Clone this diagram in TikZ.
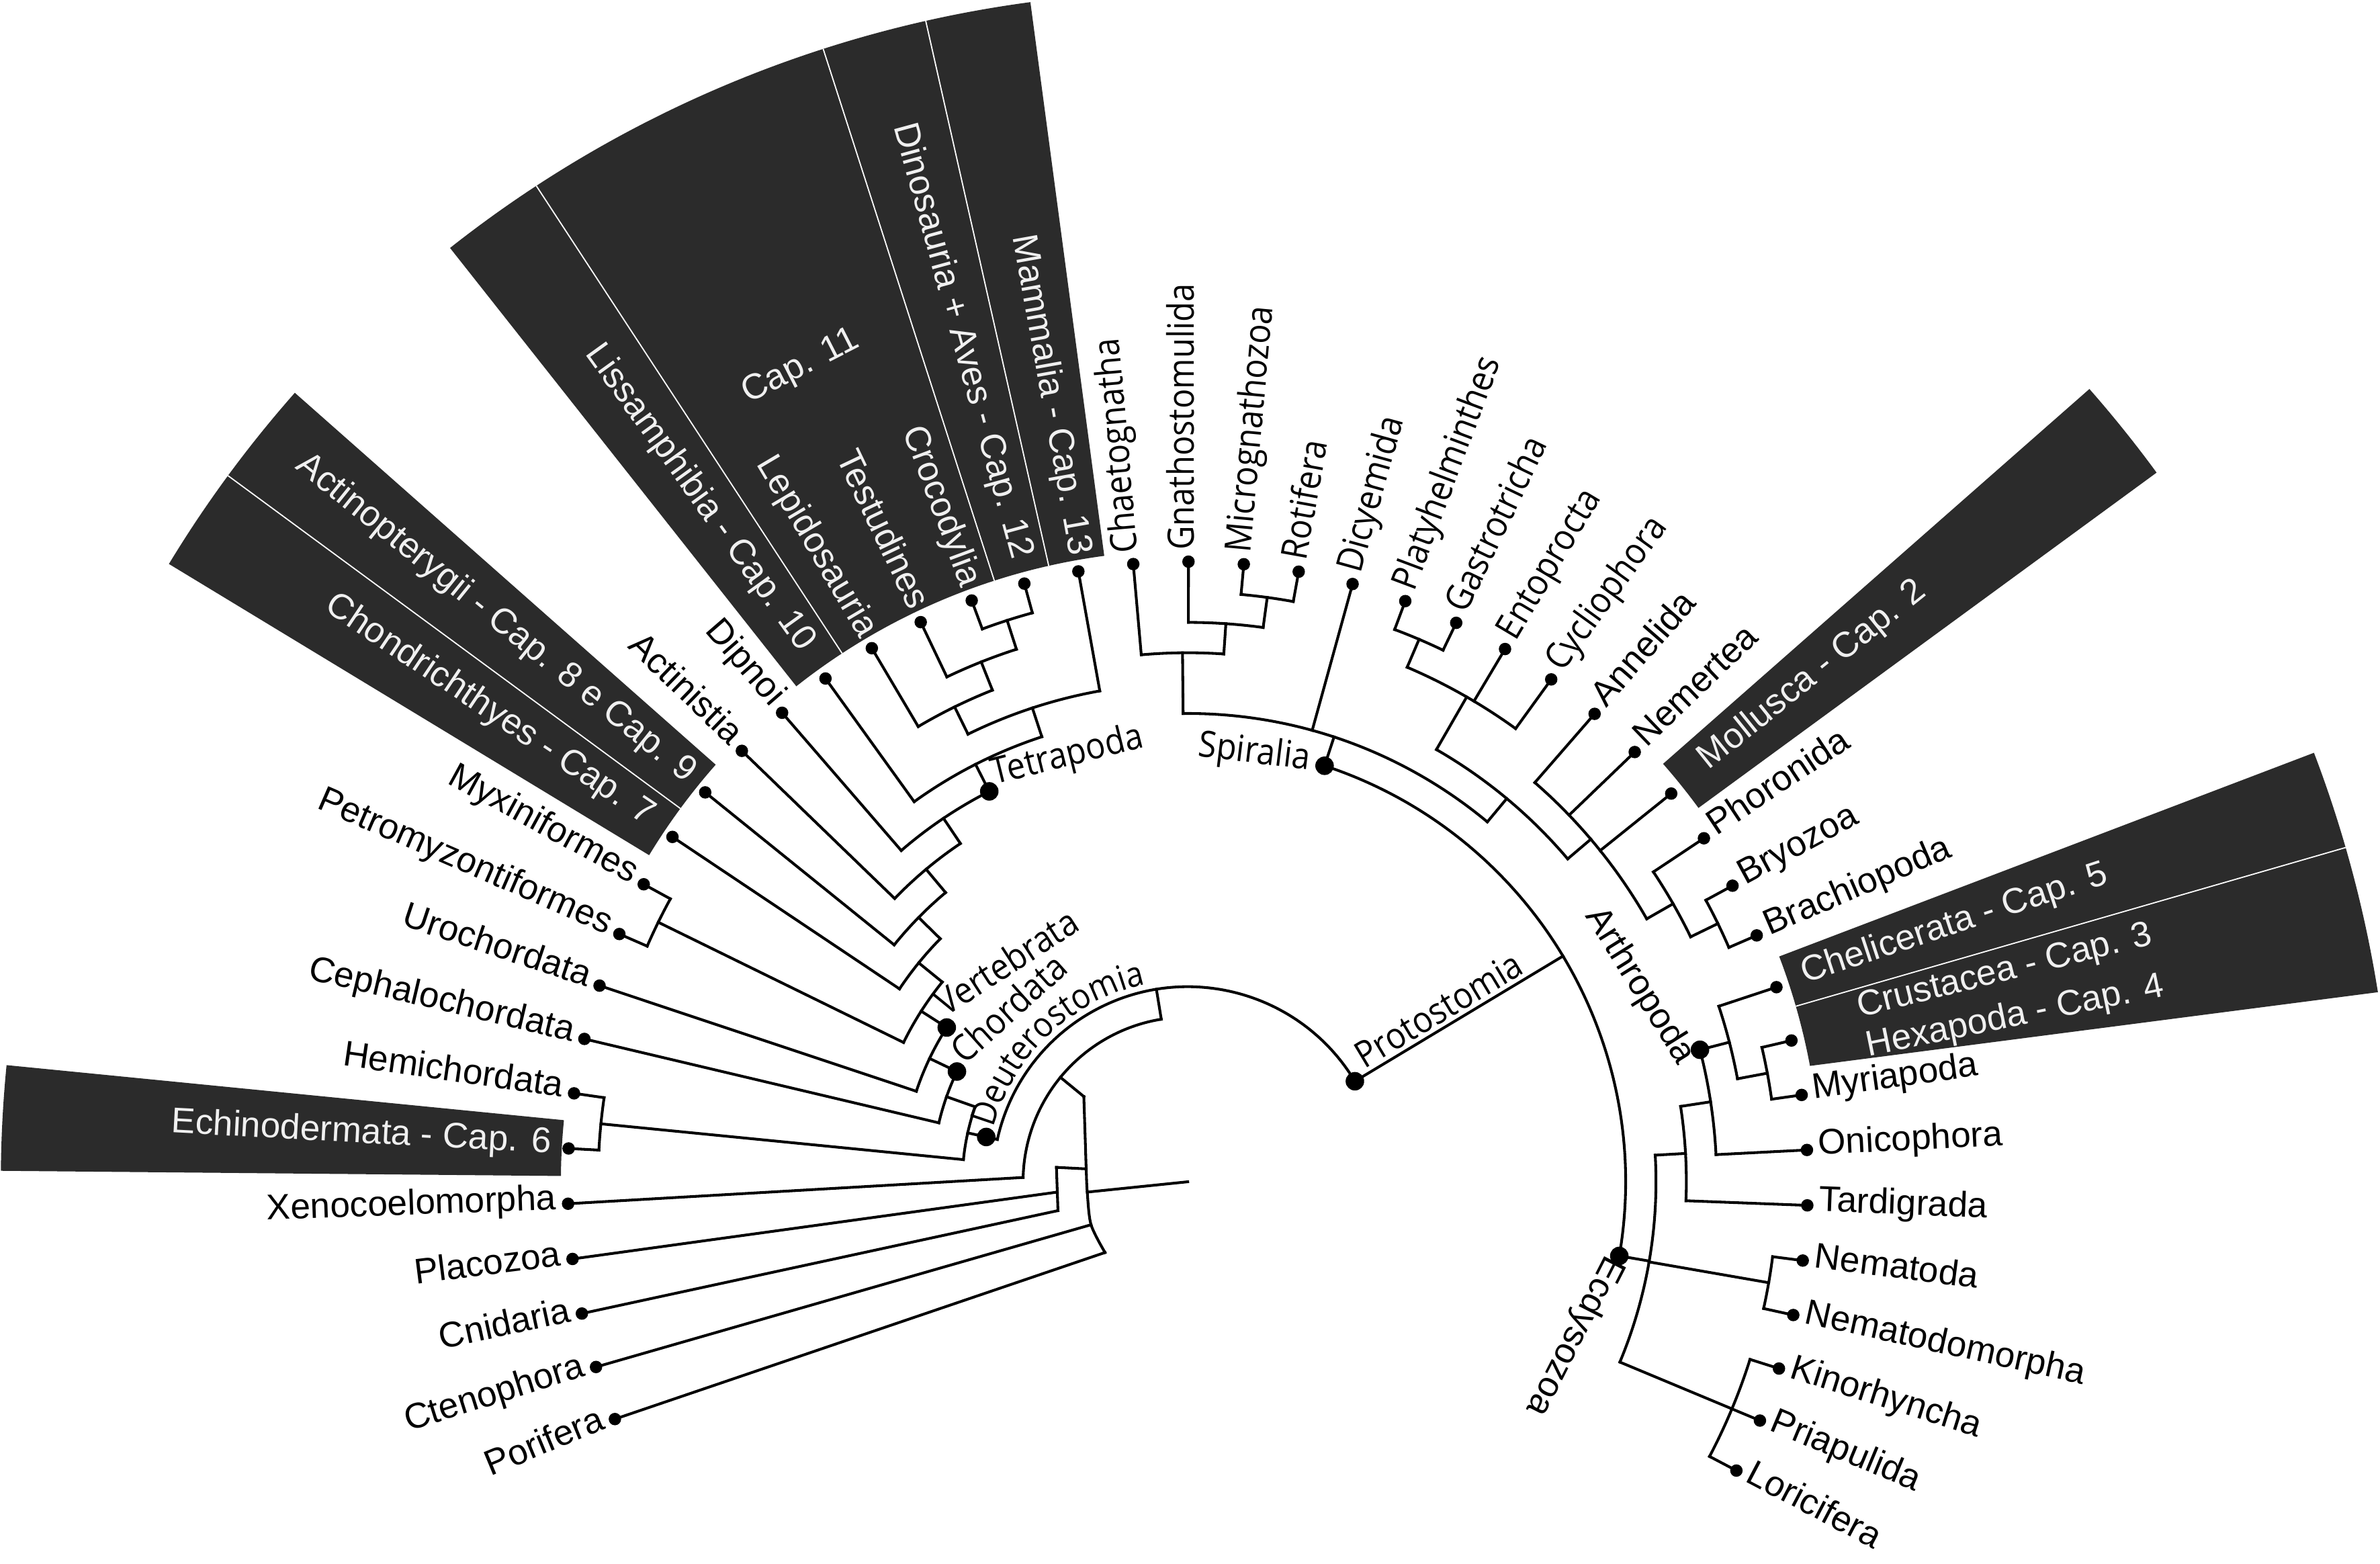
\documentclass[tikz,border=0pt]{standalone}
\usepackage{fontspec}
\setmainfont{Liberation Sans}
\newfontfamily\myrfont[FakeStretch=0.9]{Open Sans}
\usetikzlibrary{calc,decorations.text}
\definecolor{bandc}{RGB}{43,43,43}
\definecolor{wtext}{RGB}{240,240,240}
\newcommand\tarc[3]{\draw[br] (#2:#1pt) arc[start angle=#2, end angle=#3, radius=#1pt];}
\newcommand\tstem[3]{\draw[br] (#1:#2pt) -- (#1:#3pt);}
\newcommand\tband[4]{\fill[band] (#1:#3pt) arc[start angle=#1, end angle=#2, radius=#3pt] -- (#2:#4pt) arc[start angle=#2, end angle=#1, radius=#4pt] -- cycle;}
\newcommand\tleaf[3]{\node[ldot] (#1) at (#2:408.5pt) {}; \draw[br] (#1.center) -- (#2:#3pt);}
\newcommand\tlabL[5]{\node[#4, anchor=east, rotate=#2-180] (l#1) at (#2:#3pt) {#5};}
\newcommand\tlabR[5]{\node[#4, anchor=west, rotate=#2] (l#1) at (#2:#3pt) {#5};}
\begin{document}
\begin{tikzpicture}[x=1pt,y=1pt,
  br/.style={line width=1.8pt, line cap=rect, line join=miter},
  ldot/.style={circle, fill=black, inner sep=0pt, minimum size=8.2pt},
  cdot/.style={circle, fill=black, inner sep=0pt, minimum size=12.2pt},
  band/.style={fill=bandc, draw=none},
  sep/.style={draw=white, line width=0.8pt},
  lab/.style={inner sep=0pt, text height=0.72em, text depth=0pt, font=\fontsize{23.5}{26}\selectfont},
  mlab/.style={inner sep=0pt, text height=0.72em, text depth=0pt, font=\myrfont\fontsize{24}{26}\selectfont},
  wlab/.style={lab, text=wtext}]
\useasboundingbox (0,0) rectangle (1568,1030);
\fill[white] (0,0) rectangle (1568,1030);
\begin{scope}[shift={(782.5,251.5)}]
% highlight bands
\tband{174.36}{179.47}{413}{782}
\tband{138.54}{148.77}{415}{785}
\tband{97.60}{128.31}{416}{784}
\tband{36.20}{41.32}{417}{791}
\fill[band] (20.85:417pt) arc[start angle=20.85, end angle=10.55, radius=417pt] -- (9.05:794pt) arc[start angle=9.05, end angle=20.85, radius=794pt] -- cycle;
\draw[sep] (143.66:415pt) -- (143.66:785pt);
\draw[sep] (123.19:416pt) -- (123.19:784pt);
\draw[sep] (107.84:416pt) -- (107.84:784pt);
\draw[sep] (102.72:416pt) -- (102.72:784pt);
\draw[sep] (16.1:417pt) -- (16.1:794pt);
% leaves
\tleaf{Echinodermata}{176.92}{388.5}
\tleaf{Hemichordata}{171.80}{388.5}
\tleaf{Cephalochordata}{166.68}{168.5}
\tleaf{Urochordata}{161.56}{188.5}
\tleaf{Petromyzontiformes}{156.45}{388.5}
\tleaf{Myxiniformes}{151.33}{388.5}
\tleaf{Chondrichthyes}{146.21}{228.5}
\tleaf{Actinopterygii}{141.10}{248.5}
\tleaf{Actinistia}{135.98}{268.5}
\tleaf{Dipnoi}{130.86}{288.5}
\tleaf{Lissamphibia}{125.75}{308.5}
\tleaf{Lepidosauria}{120.63}{348.5}
\tleaf{Testudines}{115.51}{368.5}
\tleaf{Crocodylia}{110.39}{388.5}
\tleaf{Dinosauria}{105.28}{388.5}
\tleaf{Mammalia}{100.16}{328.5}
\tleaf{Chaetognatha}{95.04}{348.5}
\tleaf{Gnathostomulida}{89.93}{368.5}
\tleaf{Micrognathozoa}{84.81}{388.5}
\tleaf{Rotifera}{79.69}{388.5}
\tleaf{Dicyemida}{74.58}{308.5}
\tleaf{Platyhelminthes}{69.46}{388.5}
\tleaf{Gastrotricha}{64.34}{388.5}
\tleaf{Entoprocta}{59.22}{368.5}
\tleaf{Cycliophora}{54.11}{368.5}
\tleaf{Annelida}{48.99}{348.5}
\tleaf{Nemertea}{43.87}{348.5}
\tleaf{Mollusca}{38.76}{348.5}
\tleaf{Phoronida}{33.64}{368.5}
\tleaf{Bryozoa}{28.52}{388.5}
\tleaf{Brachiopoda}{23.41}{388.5}
\tleaf{Chelicerata}{18.29}{368.5}
\tleaf{Pancrustacea}{13.17}{388.5}
\tleaf{Myriapoda}{8.05}{388.5}
\tleaf{Onicophora}{2.94}{348.5}
\tleaf{Tardigrada}{-2.18}{328.5}
\tleaf{Nematoda}{-7.30}{388.5}
\tleaf{Nematodomorpha}{-12.41}{388.5}
\tleaf{Kinorhyncha}{-17.53}{388.5}
\tleaf{Priapulida}{-22.65}{388.5}
\tleaf{Loricifera}{-27.76}{388.5}
% internal nodes: arcs and stems
\tarc{388.5}{105.28}{110.39}\tstem{107.835}{388.5}{368.5}
\tarc{368.5}{107.835}{115.51}\tstem{111.67}{368.5}{348.5}
\tarc{348.5}{111.67}{120.63}\tstem{116.15}{348.5}{328.5}
\tarc{328.5}{100.16}{116.15}\tstem{108.155}{328.5}{308.5}
\tarc{308.5}{108.155}{125.75}\tstem{116.95}{308.5}{288.5}
\tarc{288.5}{116.95}{130.86}\tstem{123.905}{288.5}{268.5}
\tarc{268.5}{123.905}{135.98}\tstem{129.94}{268.5}{248.5}
\tarc{248.5}{129.94}{141.10}\tstem{135.52}{248.5}{228.5}
\tarc{228.5}{135.52}{146.21}\tstem{140.865}{228.5}{208.5}
\tarc{388.5}{151.33}{156.45}\tstem{153.89}{388.5}{208.5}
\tarc{208.5}{140.865}{153.89}\tstem{147.38}{208.5}{188.5}
\tarc{188.5}{147.38}{161.56}\tstem{154.47}{188.5}{168.5}
\tarc{168.5}{154.47}{166.68}\tstem{160.575}{168.5}{148.5}
\tarc{388.5}{171.80}{176.92}\tstem{174.36}{388.5}{148.5}
\tarc{148.5}{160.575}{174.36}\tstem{167.47}{148.5}{128.5}
\tarc{388.5}{79.69}{84.81}\tstem{82.25}{388.5}{368.5}
\tarc{368.5}{82.25}{89.93}\tstem{86.09}{368.5}{348.5}
\tarc{348.5}{86.09}{95.04}\tstem{90.565}{348.5}{308.5}
\tarc{388.5}{64.34}{69.46}\tstem{66.90}{388.5}{368.5}
\tarc{368.5}{54.11}{66.90}\tstem{60.08}{368.5}{328.5}
\tarc{388.5}{23.41}{28.52}\tstem{25.965}{388.5}{368.5}
\tarc{368.5}{25.965}{33.64}\tstem{29.80}{368.5}{348.5}
\tarc{348.5}{29.80}{48.99}\tstem{40.355}{348.5}{328.5}
\tarc{328.5}{40.355}{60.08}\tstem{50.22}{328.5}{308.5}
\tarc{308.5}{50.22}{90.565}\tstem{71.79}{308.5}{288.5}
\tarc{388.5}{8.05}{13.17}\tstem{10.61}{388.5}{368.5}
\tarc{368.5}{10.61}{18.29}\tstem{14.45}{368.5}{348.5}
\tarc{348.5}{2.94}{14.45}\tstem{8.695}{348.5}{328.5}
\tarc{328.5}{-2.18}{8.695}\tstem{3.2575}{328.5}{308.5}
\tarc{388.5}{-12.41}{-7.30}\tstem{-9.855}{388.5}{308.5}
\tarc{388.5}{-27.76}{-17.53}\tstem{-22.647}{388.5}{308.5}
\tarc{308.5}{-22.647}{3.2575}\tstem{-9.748}{308.5}{288.5}
\tarc{288.5}{-9.748}{71.79}\tstem{31.02}{288.5}{128.5}
\tarc{128.5}{31.02}{167.47}\tstem{99.245}{128.5}{108.5}
\tarc{108.5}{99.245}{178.5}\tstem{140.64}{108.5}{88.5}
% basal part
\node[ldot] (Porifera) at (202.50:408.5pt) {};
\node[ldot] (Ctenophora) at (197.38:408.5pt) {};
\node[ldot] (Cnidaria) at (192.27:408.5pt) {};
\node[ldot] (Placozoa) at (187.15:408.5pt) {};
\node[ldot] (Xeno) at (182.03:408.5pt) {};
\coordinate (rootC) at (0,0);
\coordinate (bPC) at (-66.9,8.5);
\coordinate (bRoot) at (-66.2,-6.8);
\coordinate (bCteno) at (-63.7,-28.3);
\coordinate (bPori) at (-54.5,-46.6);
\coordinate (cTop) at (-86.5,9.5);
\coordinate (cPlac) at (-86.0,-6.8);
\coordinate (cCnid) at (-85.5,-19);
\draw[br] plot[smooth] coordinates {(-68.46,56.13) (-67.6,30) (-66.9,8.5) (-66.2,-6.8) (-63.7,-28.3) (-54.5,-46.6)};
\draw[br] (Xeno.center) -- (178.5:108.5pt);
\draw[br] (Placozoa.center) -- (cPlac);
\draw[br] (Cnidaria.center) -- (cCnid);
\draw[br] (Ctenophora.center) -- (bCteno);
\draw[br] (Porifera.center) -- (bPori);
\draw[br] (cTop) -- (cCnid);
\draw[br] (cTop) -- (bPC);
\draw[br] (rootC) -- (bRoot);
% clade dots
\node[cdot] (dTetra) at (116.95:288.5pt) {};
\node[cdot] (dVert) at (147.38:188.5pt) {};
\node[cdot] (dChord) at (154.47:168.5pt) {};
\node[cdot] (dDeut) at (167.47:136pt) {};
\node[cdot] (dProto) at (31.02:128.5pt) {};
\node[cdot] (dSpir) at (71.79:288.5pt) {};
\node[cdot] (dArthro) at (14.45:348.5pt) {};
\node[cdot] (dEcdy) at (-9.748:288.5pt) {};
% leaf labels, left half
\tlabL{Porifera}{202.50}{416}{lab}{Porifera}
\tlabL{Ctenophora}{197.38}{416}{lab}{Ctenophora}
\tlabL{Cnidaria}{192.27}{416}{lab}{Cnidaria}
\tlabL{Placozoa}{187.15}{416}{lab}{Placozoa}
\tlabL{Xeno}{182.03}{416}{lab}{Xenocoelomorpha}
\tlabL{Echinodermata}{176.92}{420}{wlab}{Echinodermata - Cap. 6}
\tlabL{Hemichordata}{171.80}{416}{lab}{Hemichordata}
\tlabL{Cephalochordata}{166.68}{416}{lab}{Cephalochordata}
\tlabL{Urochordata}{161.56}{416}{lab}{Urochordata}
\tlabL{Petromyzontiformes}{156.45}{416}{lab}{Petromyzontiformes}
\tlabL{Myxiniformes}{151.33}{416}{lab}{Myxiniformes}
\tlabL{Chondrichthyes}{146.21}{427}{wlab}{Chondrichthyes - Cap. 7}
\tlabL{Actinopterygii}{141.10}{422}{wlab}{Actinopterygii - Cap. 8 e Cap. 9}
\tlabL{Actinistia}{135.98}{416}{lab}{Actinistia}
\tlabL{Dipnoi}{130.86}{416}{lab}{Dipnoi}
\tlabL{Lissamphibia}{125.75}{432}{wlab}{Lissamphibia - Cap. 10}
\tlabL{Lepidosauria}{120.63}{417}{wlab}{Lepidosauria}
\tlabL{Testudines}{115.51}{418}{wlab}{Testudines}
\tlabL{Crocodylia}{110.39}{418}{wlab}{Crocodylia}
\tlabL{Dinosauria}{105.28}{425}{wlab}{Dinosauria + Aves - Cap. 12}
\tlabL{Mammalia}{100.16}{419}{wlab}{Mammalia - Cap. 13}
\node[wlab, rotate=27] (lCap) at (115.4:592pt) {Cap. 11};
% leaf labels, right half
\tlabR{Chaetognatha}{95.04}{416}{mlab}{Chaetognatha}
\tlabR{Gnathostomulida}{89.93}{416}{mlab}{Gnathostomulida}
\tlabR{Micrognathozoa}{84.81}{416}{mlab}{Micrognathozoa}
\tlabR{Rotifera}{79.69}{416}{mlab}{Rotifera}
\tlabR{Dicyemida}{74.58}{416}{mlab}{Dicyemida}
\tlabR{Platyhelminthes}{69.46}{416}{mlab}{Platyhelminthes}
\tlabR{Gastrotricha}{64.34}{416}{mlab}{Gastrotricha}
\tlabR{Entoprocta}{59.22}{416}{mlab}{Entoprocta}
\tlabR{Cycliophora}{54.11}{416}{mlab}{Cycliophora}
\tlabR{Annelida}{48.99}{416}{lab}{Annelida}
\tlabR{Nemertea}{43.87}{416}{lab}{Nemertea}
\tlabR{Mollusca}{38.76}{437}{wlab}{Mollusca - Cap. 2}
\tlabR{Phoronida}{33.64}{416}{lab}{Phoronida}
\tlabR{Bryozoa}{28.52}{416}{lab}{Bryozoa}
\tlabR{Brachiopoda}{23.41}{416}{lab}{Brachiopoda}
\tlabR{Chelicerata}{18.29}{427}{wlab}{Chelicerata - Cap. 5}
\node[wlab, anchor=west, rotate=14] (lCrus) at (14.2:456pt) {Crustacea - Cap. 3};
\node[wlab, anchor=west, rotate=11.5] (lHexa) at (10.9:456pt) {Hexapoda - Cap. 4};
\tlabR{Myriapoda}{8.05}{416}{lab}{Myriapoda}
\tlabR{Onicophora}{2.94}{416}{lab}{Onicophora}
\tlabR{Tardigrada}{-2.18}{416}{lab}{Tardigrada}
\tlabR{Nematoda}{-7.30}{416}{lab}{Nematoda}
\tlabR{Nematodomorpha}{-12.41}{416}{lab}{Nematodomorpha}
\tlabR{Kinorhyncha}{-17.53}{416}{lab}{Kinorhyncha}
\tlabR{Priapulida}{-22.65}{416}{lab}{Priapulida}
\tlabR{Loricifera}{-27.76}{416}{lab}{Loricifera}
% clade labels
\path[decorate, decoration={text along path, text={|\myrfont\fontsize{23}{23}\selectfont|Deuterostomia}}] (164.5:133pt) arc[start angle=164.5, end angle=96, radius=133pt];
\node[mlab, anchor=base, rotate=31.02] (lProto) at ($(31.02:200pt)+(121.02:3.5pt)$) {Protostomia};
\end{scope}
\node[mlab, rotate=33] (lVert) at (666,392) {Vertebrata};
\node[mlab, rotate=42] (lChord) at (668,362) {Chordata};
\node[mlab, rotate=-7] (lSpir) at (826,531) {Spiralia};
\node[mlab, rotate=14] (lTetra) at (704,529) {Tetrapoda};
\node[lab, rotate=-58] (lArthro) at (1078,379) {Arthropoda};
\node[lab, rotate=-117] (lEcdy) at (1035,151) {Ecdysozoa};
\end{tikzpicture}
\end{document}
